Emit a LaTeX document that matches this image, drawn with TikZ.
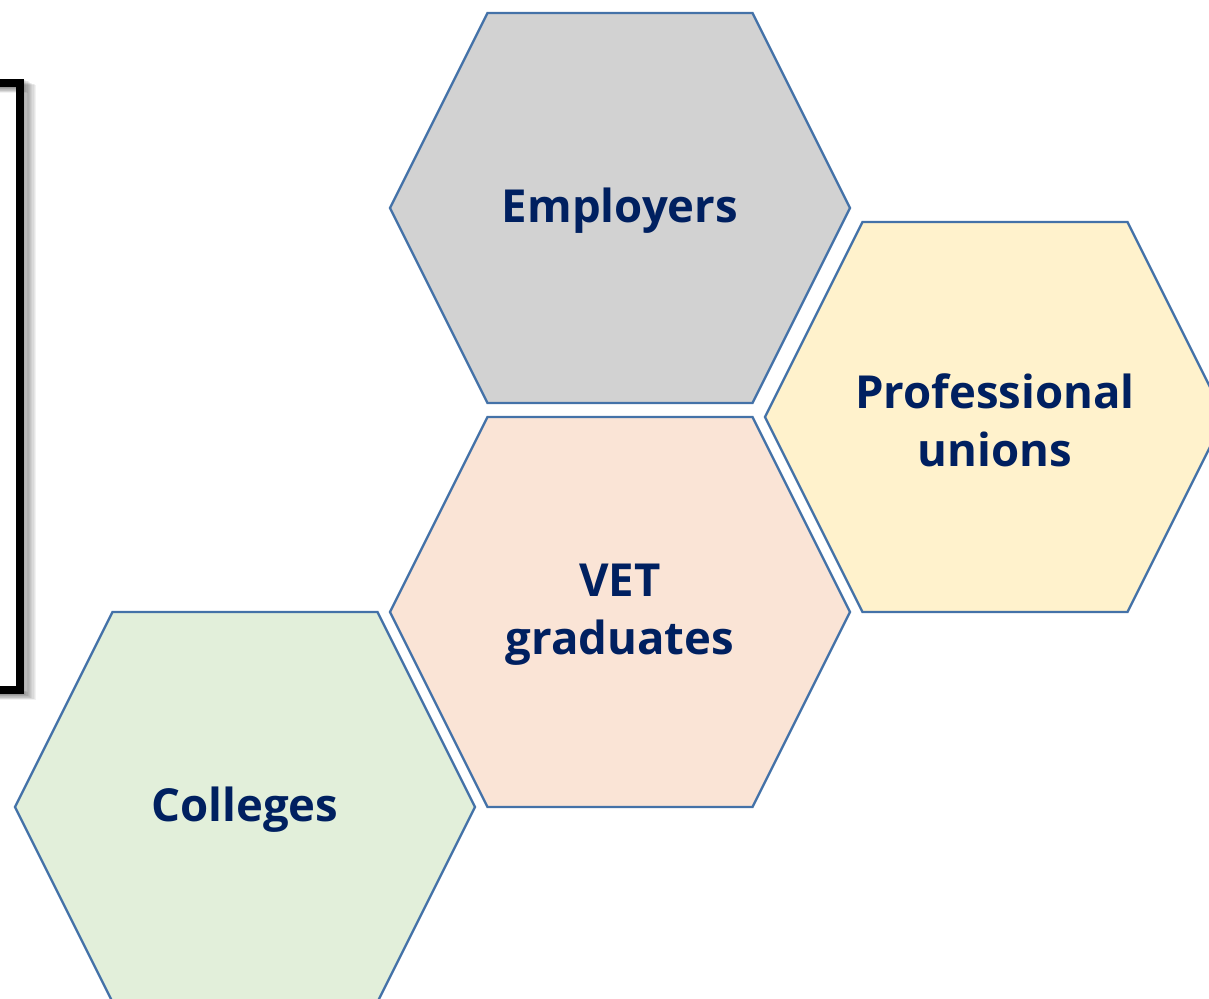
\documentclass[tikz,border=0pt]{standalone}
\usepackage{fontspec}
\setmainfont{Open Sans}
\definecolor{hexline}{HTML}{4472A8}
\definecolor{navy}{HTML}{002060}
\definecolor{gfill}{HTML}{D2D2D2}
\definecolor{yfill}{HTML}{FFF2CC}
\definecolor{pfill}{HTML}{FAE4D6}
\definecolor{cfill}{HTML}{E2EFDA}
\tikzset{
  hexlabel/.style={font=\fontsize{45.5}{58}\selectfont\bfseries, text=navy, align=center},
  hexedge/.style={draw=hexline, line width=2.4pt, line join=miter},
}
\newcommand{\hexat}[3]{% center x, center y, fill
  \path[hexedge, fill=#3] (#1-132.5,#2-195) -- (#1+132.5,#2-195) -- (#1+230,#2) -- (#1+132.5,#2+195) -- (#1-132.5,#2+195) -- (#1-230,#2) -- cycle;}
\begin{document}
\begin{tikzpicture}[x=1pt,y=-1pt]
\useasboundingbox (0,0) rectangle (1209,998);
\clip (0,0) rectangle (1209,998);
% bracket with shadow
\foreach \i in {1,...,10}{
  \draw[black, opacity=0.05, line width=8pt, line join=miter] (-10,83+\i*0.6) -- (20+\i*1.2,83+\i*0.6) -- (20+\i*1.2,690+\i*0.6) -- (-10,690+\i*0.6);
}
\draw[black, line width=8pt, line join=miter] (-10,83) coordinate (bt) -- (20,83) -- (20,690) -- (-10,690) coordinate (bb);
% hexagons
\hexat{620}{208}{gfill}
\hexat{995}{417}{yfill}
\hexat{620}{612}{pfill}
\hexat{245}{807}{cfill}
\node[hexlabel] (emp) at (620,211) {Employers};
\node[hexlabel] (pro) at (995,420) {Professional\\unions};
\node[hexlabel] (vet) at (620,615) {VET\\graduates};
\node[hexlabel] (col) at (245,810) {Colleges};
\end{tikzpicture}
\end{document}
